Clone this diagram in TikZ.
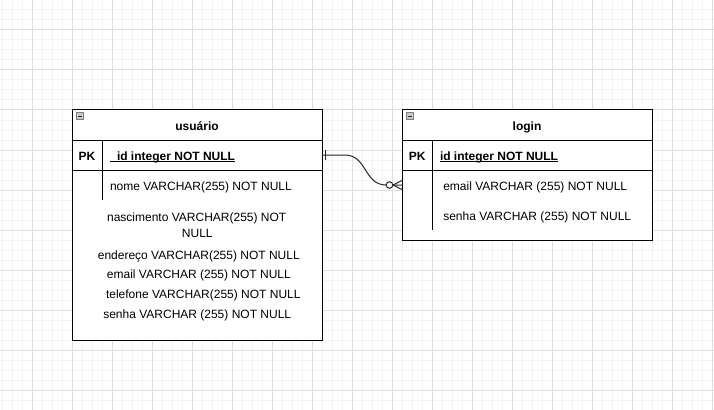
\documentclass[tikz,border=0pt]{standalone}
\usepackage{fontspec}
\setmainfont{Liberation Sans}
\definecolor{gmin}{HTML}{F3F3F3}
\definecolor{gmaj}{HTML}{DEDEDE}
\definecolor{iconfill}{HTML}{C8C8C8}
\definecolor{iconline}{HTML}{808080}
\newdimen\px \px=0.75pt
\begin{document}
\begin{tikzpicture}[x=0.75pt,y=-0.75pt, line width=0.75pt,
  every node/.style={font=\fontsize{9pt}{10.5pt}\selectfont, inner sep=0pt, outer sep=0pt},
  tbl/.style={draw, rectangle, anchor=north west, minimum width=250\px},
  rowbox/.style={draw, rectangle, anchor=north west, minimum width=250\px, minimum height=30\px},
  plainrow/.style={rectangle, anchor=north west, minimum width=250\px, minimum height=30\px},
  hdr/.style={anchor=base, font=\fontsize{9pt}{10.5pt}\selectfont\bfseries},
  pk/.style={anchor=base, font=\fontsize{9pt}{10.5pt}\selectfont\bfseries},
  txtl/.style={anchor=base west},
  txtc/.style={anchor=base},
  icon/.style={draw=iconline, fill=iconfill, line width=0.75pt, minimum size=7\px, rectangle},
  conn/.style={draw=black!85, line width=0.75pt}
]
\useasboundingbox (0,0) rectangle (714,410);
\fill[white] (0,0) rectangle (714,410);
% grid
\foreach \i in {0,...,71} \draw[gmin] ({2+10*\i},0) -- ({2+10*\i},410);
\foreach \j in {0,...,41} \draw[gmin] (0,{10*\j}) -- (714,{10*\j});
\foreach \i in {0,...,17} \draw[gmaj] ({32+40*\i},0) -- ({32+40*\i},410);
\foreach \j in {0,...,9} \draw[gmaj] (0,{30+40*\j}) -- (714,{30+40*\j});

% ---- usuario table ----
\node[tbl, fill=white, minimum height=230\px] (usu) at (72,110) {};
\node[rowbox] (usupk) at (72,140) {};
\node[plainrow] (usuf1) at (72,170) {};
\draw (usupk.north west) ++(30,0) coordinate (usudivtop) -- ++(0,60) coordinate (usudivbot);
\node[icon] (usuicon) at (80,116) {};
\draw[black!80] ([xshift=-2.2\px]usuicon.center) -- ([xshift=2.2\px]usuicon.center);
\node[hdr] (usuh) at (197,130) {usuário};
\node[pk] (usupkt) at (87,160) {PK};
\node[txtl, font=\fontsize{9pt}{10.5pt}\selectfont\bfseries] (usuid) at (110,160) {\hspace{7\px}id integer NOT NULL};
\draw[line width=0.9pt] ([yshift=-1.6\px]usuid.base west) -- ([yshift=-1.6\px]usuid.base east);
\node[txtl] (usunome) at (110,190.3) {nome VARCHAR(255) NOT NULL};
\node[txtc] (usunasc1) at (196.7,221.6) {nascimento VARCHAR(255) NOT};
\node[txtc] (usunasc2) at (197.3,237) {NULL};
\node[txtc] (usuend) at (198.8,259.3) {endereço VARCHAR(255) NOT NULL};
\node[txtc] (usuemail) at (198.9,278.6) {email VARCHAR (255) NOT NULL};
\node[txtc] (usutel) at (203.3,298.6) {telefone VARCHAR(255) NOT NULL};
\node[txtc] (ususenha) at (197.2,318.6) {senha VARCHAR (255) NOT NULL};

% ---- login table ----
\node[tbl, fill=white, minimum height=130\px] (log) at (402,110) {};
\node[rowbox] (logpk) at (402,140) {};
\node[plainrow] (logf1) at (402,170) {};
\draw (logpk.north west) ++(30,0) coordinate (logdivtop) -- ++(0,90) coordinate (logdivbot);
\node[icon] (logicon) at (410,116) {};
\draw[black!80] ([xshift=-2.2\px]logicon.center) -- ([xshift=2.2\px]logicon.center);
\node[hdr] (logh) at (527,130) {login};
\node[pk] (logpkt) at (417.3,160) {PK};
\node[txtl, font=\fontsize{9pt}{10.5pt}\selectfont\bfseries] (logid) at (440,160) {id integer NOT NULL};
\draw[line width=0.9pt] ([yshift=-1.6\px]logid.base west) -- ([yshift=-1.6\px]logid.base east);
\node[txtl] (logemail) at (443.3,190.3) {email VARCHAR (255) NOT NULL};
\node[txtl] (logsenha) at (443.3,220.3) {senha VARCHAR (255) NOT NULL};

% ---- relationship ----
\draw[conn] (usupk.east) -- ++(23,0) .. controls +(22,0) and +(-22,0) .. ([xshift=-16\px]logf1.west) -- (logf1.west);
% one mark
\draw[conn] ([xshift=3.5\px,yshift=5\px]usupk.east) -- ([xshift=3.5\px,yshift=-5\px]usupk.east);
% zero-to-many
\draw[conn] ([xshift=-9\px]logf1.west) -- ([yshift=-4.5\px]logf1.west);
\draw[conn] ([xshift=-9\px]logf1.west) -- ([yshift=4.5\px]logf1.west);
\draw[conn, fill=white] ([xshift=-12.5\px]logf1.west) circle[radius=3.3\px];
\end{tikzpicture}
\end{document}
